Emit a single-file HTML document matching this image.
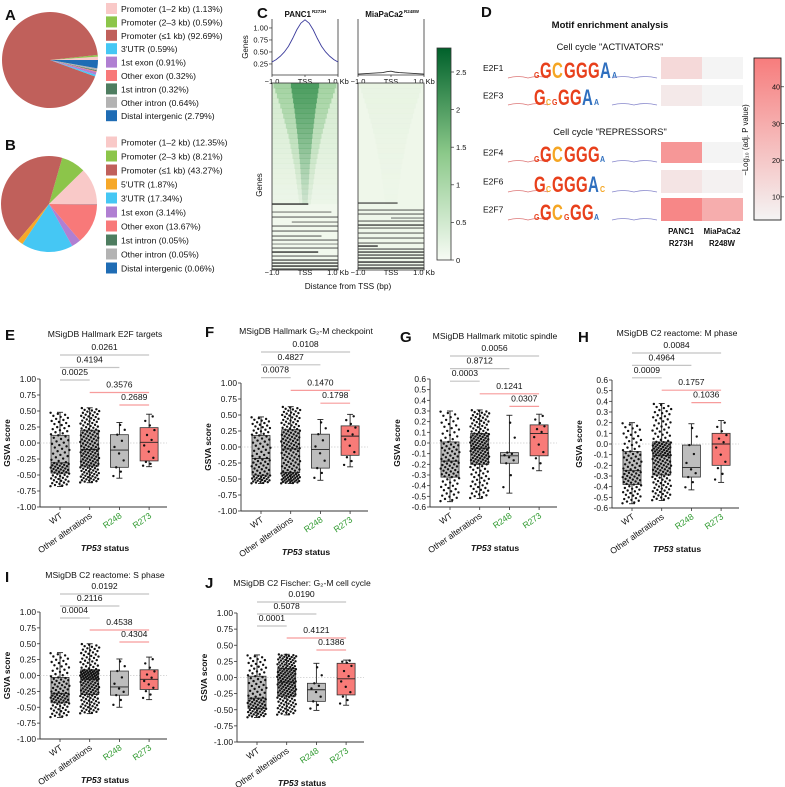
<!DOCTYPE html>
<html><head><meta charset="utf-8">
<style>
html,body{margin:0;padding:0;background:#fff;}
svg{display:block;font-family:"Liberation Sans",Arial,sans-serif;}
</style></head>
<body>
<svg id="fig" width="785" height="787" viewBox="0 0 785 787" xmlns="http://www.w3.org/2000/svg">
<defs>
<linearGradient id="gcb" x1="0" y1="1" x2="0" y2="0"><stop offset="0" stop-color="#f7fbf4"/><stop offset="0.5" stop-color="#8cc98a"/><stop offset="1" stop-color="#00612b"/></linearGradient>
<linearGradient id="rcb" x1="0" y1="1" x2="0" y2="0"><stop offset="0" stop-color="#f4f4f4"/><stop offset="1" stop-color="#f77c7c"/></linearGradient>
<clipPath id="clipP"><rect x="272" y="83" width="66" height="187"/></clipPath>
<clipPath id="clipM"><rect x="358" y="83" width="66" height="187"/></clipPath>
</defs>
<g id="root"></g>
</svg>
<script>
// ---------- data ----------
const pieALabels=["Promoter (1–2 kb)","Promoter (2–3 kb)","Promoter (≤1 kb)","3′UTR","1st exon","Other exon","1st intron","Other intron","Distal intergenic"];
const pieAValues=[1.13,0.59,92.69,0.59,0.91,0.32,0.32,0.64,2.79];
const pieAColors=["#f9c9c8","#8cc54a","#c0605b","#45c7f4","#b07fd2","#f87979","#4e7d60","#b3b3b3","#1f6cb4"];
const pieBLabels=["Promoter (1–2 kb)","Promoter (2–3 kb)","Promoter (≤1 kb)","5′UTR","3′UTR","1st exon","Other exon","1st intron","Other intron","Distal intergenic"];
const pieBValues=[12.35,8.21,43.27,1.87,17.34,3.14,13.67,0.05,0.05,0.06];
const pieBColors=["#f9c9c8","#8cc54a","#c0605b","#f6a829","#45c7f4","#b07fd2","#f87979","#4e7d60","#b3b3b3","#1f6cb4"];

const profilePANC=[0.29,0.34,0.41,0.50,0.62,0.78,0.96,1.10,1.17,1.10,0.96,0.78,0.62,0.50,0.41,0.34,0.29];
const profileMia=[0.04,0.045,0.05,0.055,0.06,0.065,0.07,0.09,0.10,0.08,0.07,0.065,0.06,0.055,0.05,0.045,0.04];
const heatRowIntensity=[1.0,0.97,0.93,0.9,0.86,0.82,0.78,0.74,0.7,0.66,0.62,0.58,0.54,0.5,0.46,0.42,0.38,0.34,0.3,0.27,0.24,0.21,0.18,0.15];
const heatRowWidth=[0.95,0.9,0.85,0.8,0.75,0.7,0.66,0.62,0.58,0.54,0.5,0.47,0.44,0.41,0.38,0.35,0.32,0.3,0.28,0.26,0.24,0.22,0.2,0.18];
const heatLinesP=[[204,0,0.55,1],[212,0,0.9,0.5],[217,0,1,0.6],[222,0.3,1,0.5],[226,0,1,0.6],[231,0,1,0.6],[236,0,0.75,0.6],[240,0,1,0.6],[244,0,1,0.4],[248,0,1,0.6],[252,0,0.7,1],[256,0,1,0.6],[260,0,1,0.8],[263,0,1,0.9],[266,0,1,1],[269,0,1,0.8]];
const heatLinesM=[[203,0,0.6,0.8],[210,0,1,0.6],[214,0,1,0.6],[218,0.5,1,0.5],[221,0,1,0.6],[225,0,1,0.9],[228,0,1,0.6],[233,0,1,0.6],[238,0,1,0.6],[243,0,1,0.6],[246,0,0.3,1],[249,0,1,0.7],[252,0,1,0.9],[255,0,1,0.8],[258,0,1,0.9],[262,0,1,1],[265,0,1,0.8],[268,0,1,1]];

const motifNames=["E2F1","E2F3","E2F4","E2F6","E2F7"];
const motifPANC=[14,8,38,10,44];
const motifMia=[3,2,2,5,30];
const motifLogos=["gGCGGGAa","GcgGGAa","gGCGGGa","GcGGGAc","gGCgGGa"];

const cats=["WT","Other alterations","R248","R273"];
const panelE=[[-0.68,-0.47,-0.31,0.12,0.48],[-0.62,-0.36,-0.10,0.20,0.55],[-0.55,-0.38,-0.11,0.13,0.32],[-0.37,-0.28,0.01,0.24,0.45]];
const panelF=[[-0.57,-0.44,-0.18,0.18,0.47],[-0.57,-0.40,-0.03,0.27,0.63],[-0.52,-0.33,-0.04,0.20,0.43],[-0.31,-0.13,0.17,0.33,0.51]];
const panelG=[[-0.55,-0.32,-0.17,0.01,0.30],[-0.52,-0.20,-0.05,0.09,0.31],[-0.47,-0.19,-0.12,-0.09,0.26],[-0.26,-0.12,0.09,0.17,0.27]];
const panelH=[[-0.56,-0.38,-0.25,-0.07,0.20],[-0.53,-0.29,-0.11,0.02,0.38],[-0.43,-0.31,-0.22,-0.01,0.19],[-0.36,-0.20,0.00,0.10,0.22]];
const panelI=[[-0.66,-0.43,-0.28,-0.03,0.36],[-0.60,-0.30,-0.06,0.09,0.50],[-0.50,-0.31,-0.18,0.07,0.26],[-0.38,-0.22,-0.06,0.09,0.29]];
const panelJ=[[-0.62,-0.48,-0.32,0.02,0.35],[-0.58,-0.29,-0.07,0.14,0.36],[-0.51,-0.37,-0.19,-0.09,0.22],[-0.43,-0.27,-0.02,0.22,0.27]];
const catCounts=[90,150,10,12];
const pE=[["0.0261",0,3],["0.4194",0,2],["0.0025",0,1],["0.3576",1,3],["0.2689",2,3]];
const pF=[["0.0108",0,3],["0.4827",0,2],["0.0078",0,1],["0.1470",1,3],["0.1798",2,3]];
const pG=[["0.0056",0,3],["0.8712",0,2],["0.0003",0,1],["0.1241",1,3],["0.0307",2,3]];
const pH=[["0.0084",0,3],["0.4964",0,2],["0.0009",0,1],["0.1757",1,3],["0.1036",2,3]];
const pI=[["0.0192",0,3],["0.2116",0,2],["0.0004",0,1],["0.4538",1,3],["0.4304",2,3]];
const pJ=[["0.0190",0,3],["0.5078",0,2],["0.0001",0,1],["0.4121",1,3],["0.1386",2,3]];
const ticks1=[1,0.75,0.5,0.25,0,-0.25,-0.5,-0.75,-1];
const ticks06=[0.6,0.5,0.4,0.3,0.2,0.1,0,-0.1,-0.2,-0.3,-0.4,-0.5,-0.6];

// ---------- helpers ----------
const NS="http://www.w3.org/2000/svg";
const root=document.getElementById('root');
function mk(tag,attrs,parent,text){const e=document.createElementNS(NS,tag);for(const k in attrs)e.setAttribute(k,attrs[k]);if(text!==undefined)e.textContent=text;(parent||root).appendChild(e);return e;}
function grp(name,parent){const g=mk('g',{},parent);


return g;}
function label(t,x,y,size,parent,extra){const a={x:x,y:y,'font-size':size,fill:'#111'};for(const k in extra||{})a[k]=extra[k];return mk('text',a,parent,t);}

[["A",5,20],["B",5,150],["C",257,18],["D",481,17],["E",5,340],["F",205,337],["G",400,342],["H",578,342],["I",5,582],["J",205,588]].forEach(p=>{
const t=label(p[0],p[1],p[2],15,root,{'font-weight':'bold'});


});

// ---------- pies ----------
function pie(name,cx,cy,r,vals,cols,labels,lx,ly,dy){
const g=grp(name);
const tot=vals.reduce((a,b)=>a+b,0);let ang=0;
vals.forEach((v,i)=>{const a0=ang,a1=ang+v/tot*2*Math.PI;ang=a1;
const x0=cx+r*Math.cos(a0),y0=cy-r*Math.sin(a0),x1=cx+r*Math.cos(a1),y1=cy-r*Math.sin(a1);
const large=(a1-a0)>Math.PI?1:0;
const p=mk('path',{d:`M${cx},${cy}L${x0},${y0}A${r},${r} 0 ${large} 0 ${x1},${y1}Z`,fill:cols[i]},g);


});
const lg=grp(name+'-legend');
labels.forEach((l,i)=>{const y=ly+i*dy;
const s=mk('rect',{x:lx,y:y-5.5,width:11,height:11,fill:cols[i]},lg);


const t=label(l+" ("+vals[i].toFixed(2)+"%)",lx+15,y+3.5,8.6,lg);


});}
pie('pie-a',50,60,48,pieAValues,pieAColors,pieALabels,106,8.5,13.4);
pie('pie-b',49,204,48,pieBValues,pieBColors,pieBLabels,106,142,14);

// ---------- panel C ----------
(function(){
const g=grp('panel-c');
const x0s=[272,358],W=66;
const yv=v=>75-(v-0.02)*48;
label("PANC1",311,17,8,g,{'font-weight':'bold','text-anchor':'end'});
label("R273H",312,13,4.5,g,{'font-weight':'bold'});
label("MiaPaCa2",403,17,8,g,{'font-weight':'bold','text-anchor':'end'});
label("R248W",404,13,4.5,g,{'font-weight':'bold'});
[profilePANC,profileMia].forEach((prof,k)=>{const x0=x0s[k];
mk('path',{d:`M${x0},19V75H${x0+W}V19`,fill:'none',stroke:'#333','stroke-width':0.8},g);
const pts=prof.map((v,i)=>`${x0+i/(prof.length-1)*W},${yv(v)}`).join(' ');
const pl=mk('polyline',{points:pts,fill:'none',stroke:k==0?'#3c3c9c':'#333','stroke-width':0.9},g);


[[x0,"−1.0"],[x0+W/2,"TSS"],[x0+W,"1.0 Kb"]].forEach(t=>{
label(t[1],t[0],84,7.5,g,{'text-anchor':'middle'});label(t[1],t[0],275,7.5,g,{'text-anchor':'middle'});
mk('line',{x1:t[0],y1:75,x2:t[0],y2:77,stroke:'#333','stroke-width':0.7},g);
mk('line',{x1:t[0],y1:268,x2:t[0],y2:270,stroke:'#333','stroke-width':0.7},g);});
});
[1.0,0.75,0.5,0.25].forEach(v=>{label(v.toFixed(2),268,yv(v)+2.5,7.5,g,{'text-anchor':'end'});mk('line',{x1:269,y1:yv(v),x2:272,y2:yv(v),stroke:'#333','stroke-width':0.7},g);});
label("Genes",248,47,8,g,{transform:'rotate(-90 248 47)','text-anchor':'middle'});
label("Genes",262,185,8,g,{transform:'rotate(-90 262 185)','text-anchor':'middle'});
const hy0=83,hy1=270;
mk('rect',{x:272,y:hy0,width:W,height:hy1-hy0,fill:'#f1f8ed'},g);
mk('rect',{x:358,y:hy0,width:W,height:hy1-hy0,fill:'#eff7ea'},g);
const gp=mk('g',{'clip-path':'url(#clipP)'},g);
const gm=mk('g',{'clip-path':'url(#clipM)'},g);
const rh=(204-hy0)/heatRowIntensity.length;
heatRowIntensity.forEach((v,i)=>{const y=hy0+i*rh,w=heatRowWidth[i]*W/2;
mk('rect',{x:272,y:y,width:W,height:rh+0.3,fill:'#8fcb8a',opacity:v*0.3},gp);
const a=mk('rect',{x:305-w,y:y,width:2*w,height:rh+0.3,fill:'#5fb062',opacity:v*0.4},gp);


mk('rect',{x:305-w*0.45,y:y,width:w*0.9,height:rh+0.3,fill:'#137a35',opacity:v*0.6},gp);
mk('rect',{x:391-w,y:y,width:2*w,height:rh+0.3,fill:'#d6ebd0',opacity:v*0.25},gm);
});
[[heatLinesP,272],[heatLinesM,358]].forEach(hl=>{hl[0].forEach(l=>{
const e=mk('rect',{x:hl[1]+l[1]*W,y:l[0]-0.6,width:(l[2]-l[1])*W,height:1.3,fill:'#222',opacity:l[3]},g);

});});
mk('rect',{x:272,y:hy0,width:W,height:hy1-hy0,fill:'none',stroke:'#333','stroke-width':0.8},g);
mk('rect',{x:358,y:hy0,width:W,height:hy1-hy0,fill:'none',stroke:'#333','stroke-width':0.8},g);
label("Distance from TSS (bp)",348,289,8.3,g,{'text-anchor':'middle'});
const cb=mk('rect',{x:437,y:48,width:14,height:212,fill:'url(#gcb)',stroke:'#333','stroke-width':0.8},g);


[0,0.5,1,1.5,2,2.5].forEach(v=>{const y=260-v*75.2;mk('line',{x1:451,y1:y,x2:454,y2:y,stroke:'#333','stroke-width':0.7},g);label(String(v),456,y+2.8,7.5,g);});
})();

// ---------- panel D ----------
(function(){
const g=grp('panel-d');
label("Motif enrichment analysis",610,28,9.5,g,{'font-weight':'bold','text-anchor':'middle'});
label("Cell cycle \"ACTIVATORS\"",610,50,9.3,g,{'text-anchor':'middle'});
label("Cell cycle \"REPRESSORS\"",610,135,9.3,g,{'text-anchor':'middle'});
const rows=[[57,79],[85,106],[142,163],[170,193],[198,221]];
const col=v=>{const t=Math.min(1,Math.max(0,(v-4)/44));const r=Math.round(244+(247-244)*t),gg=Math.round(244-(244-124)*t),b=Math.round(244-(244-124)*t);return `rgb(${r},${gg},${b})`;};
const lc={G:'#e8401c',C:'#f5a623',A:'#2f6fbf'};
motifNames.forEach((n,i)=>{const r=rows[i],ym=(r[0]+r[1])/2;
label(n,483,ym+3,8.5,g);
const c1=mk('rect',{x:661,y:r[0],width:41,height:r[1]-r[0],fill:col(motifPANC[i])},g);


const c2=mk('rect',{x:702,y:r[0],width:41,height:r[1]-r[0],fill:col(motifMia[i])},g);


const lg=grp('logo-'+n.toLowerCase(),g);
const base=r[1]-1;
mk('path',{d:`M508,${base}q10,-3 20,0q10,-3 20,0`,stroke:'#d77','stroke-width':0.8,fill:'none'},lg);
mk('path',{d:`M612,${base}q11,-3 22,0q11,-3 23,0`,stroke:'#88c','stroke-width':0.8,fill:'none'},lg);
let x=534;const s=motifLogos[i];
for(const ch of s){const big=ch===ch.toUpperCase();const U=ch.toUpperCase();
const fs=big?15:7;
mk('text',{x:0,y:0,'font-size':fs,fill:lc[U],'font-weight':'bold',transform:`translate(${x},${base}) scale(1,${big?1.5:1.2})`},lg,U);
x+=big?12:6;}
});
label("PANC1",681,234,7.8,g,{'font-weight':'bold','text-anchor':'middle'});
label("R273H",681,246,7.8,g,{'font-weight':'bold','text-anchor':'middle'});
label("MiaPaCa2",722,234,7.8,g,{'font-weight':'bold','text-anchor':'middle'});
label("R248W",722,246,7.8,g,{'font-weight':'bold','text-anchor':'middle'});
const cb=mk('rect',{x:754,y:58,width:27,height:162,fill:'url(#rcb)',stroke:'#222','stroke-width':0.9},g);


[10,20,30,40].forEach(v=>{const y=220-(v-3.7)*3.67;mk('line',{x1:781,y1:y,x2:784,y2:y,stroke:'#222','stroke-width':0.7},g);label(String(v),772,y+2.8,7.3,g);});
label("−Log₁₀ (adj. P value)",748,140,7.8,g,{transform:'rotate(-90 748 140)','text-anchor':'middle'});
})();

// ---------- box plots ----------
function boxPanel(name,ax,yTopPx,yBotPx,vTop,vBot,ticks,dec,stats,pv,title,titleY,brY,brStep){
const g=grp(name);
const ys=v=>yTopPx+(vTop-v)/(vTop-vBot)*(yBotPx-yTopPx);
const cx=i=>ax+20+i*29.7;
label(title,ax+65,titleY,8.6,g,{'text-anchor':'middle'});
pv.forEach((p,k)=>{const ty=brY+k*brStep;const red=k>=3;
const t=label(p[0],(cx(p[1])+cx(p[2]))/2,ty,8.6,g,{'text-anchor':'middle'});


mk('line',{x1:cx(p[1]),y1:ty+5,x2:cx(p[2]),y2:ty+5,stroke:red?'#f79c9c':'#c4c4c4','stroke-width':1.2},g);});
mk('line',{x1:ax,y1:yTopPx,x2:ax,y2:yBotPx,stroke:'#333','stroke-width':0.9},g);
mk('line',{x1:ax,y1:yBotPx,x2:ax+127,y2:yBotPx,stroke:'#333','stroke-width':0.9},g);
mk('line',{x1:ax,y1:ys(0),x2:ax+127,y2:ys(0),stroke:'#ccc','stroke-width':0.8,'stroke-dasharray':'1.5,1.5'},g);
ticks.forEach(v=>{const y=ys(v);mk('line',{x1:ax-3,y1:y,x2:ax,y2:y,stroke:'#333','stroke-width':0.8},g);
const s=(v<0?"-":"")+Math.abs(v).toFixed(dec);label(s,ax-4,y+3,8.4,g,{'text-anchor':'end'});});
const yc=(yTopPx+yBotPx)/2;
label("GSVA score",ax-30,yc,8.4,g,{transform:`rotate(-90 ${ax-30} ${yc})`,'text-anchor':'middle','font-weight':'bold'});
stats.forEach((s,i)=>{const x=cx(i);
mk('line',{x1:x,y1:yBotPx,x2:x,y2:yBotPx+3,stroke:'#333','stroke-width':0.8},g);
const xl=label(cats[i],x+3,yBotPx+10,8.6,g,{'text-anchor':'end',transform:`rotate(-35 ${x+3} ${yBotPx+10})`,fill:i>=2?'#2f9a2f':'#111'});


const bg=grp('box-'+cats[i].toLowerCase().replace(/ /g,'-'),g);
mk('line',{x1:x,y1:ys(s[4]),x2:x,y2:ys(s[0]),stroke:'#222','stroke-width':0.9},bg);
mk('line',{x1:x-3,y1:ys(s[4]),x2:x+3,y2:ys(s[4]),stroke:'#222','stroke-width':0.9},bg);
mk('line',{x1:x-3,y1:ys(s[0]),x2:x+3,y2:ys(s[0]),stroke:'#222','stroke-width':0.9},bg);
mk('rect',{x:x-9,y:ys(s[3]),width:18,height:ys(s[1])-ys(s[3]),fill:i==3?'#f87b78':'#bdbdbd',stroke:'#333','stroke-width':0.8},bg);
mk('line',{x1:x-9,y1:ys(s[2]),x2:x+9,y2:ys(s[2]),stroke:'#222','stroke-width':0.9},bg);
const n=catCounts[i];const q=[0,0.25,0.5,0.75,1];
for(let j=0;j<n;j++){const p=(j+0.5)/n;let k=0;while(k<3&&p>q[k+1])k++;
const v=s[k]+(s[k+1]-s[k])*(p-q[k])/0.25;
const jit=(((j*0.6180339)%1)-0.5)*(n>20?19:12);
mk('circle',{cx:x+jit,cy:ys(v),r:1.2,fill:'#111'},bg);}
});
const tt=label("",ax+65,yBotPx+44,8.6,g,{'text-anchor':'middle','font-weight':'bold'});
mk('tspan',{'font-style':'italic'},tt,"TP53");mk('tspan',{},tt," status");
}
boxPanel('panel-e',40,379,507,1,-1,ticks1,2,panelE,pE,"MSigDB Hallmark E2F targets",337,350,12.5);
boxPanel('panel-f',241,383,511,1,-1,ticks1,2,panelF,pF,"MSigDB Hallmark G₂-M checkpoint",334,347,12.8);
boxPanel('panel-g',430,379,507,0.6,-0.6,ticks06,1,panelG,pG,"MSigDB Hallmark mitotic spindle",339,351,12.6);
boxPanel('panel-h',612,380,508,0.6,-0.6,ticks06,1,panelH,pH,"MSigDB C2 reactome: M phase",336,348,12.4);
boxPanel('panel-i',40,612,739,1,-1,ticks1,2,panelI,pI,"MSigDB C2 reactome: S phase",578,589,12);
boxPanel('panel-j',237,613,742,1,-1,ticks1,2,panelJ,pJ,"MSigDB C2 Fischer: G₂-M cell cycle",586,597,12);
</script>
</body></html>
